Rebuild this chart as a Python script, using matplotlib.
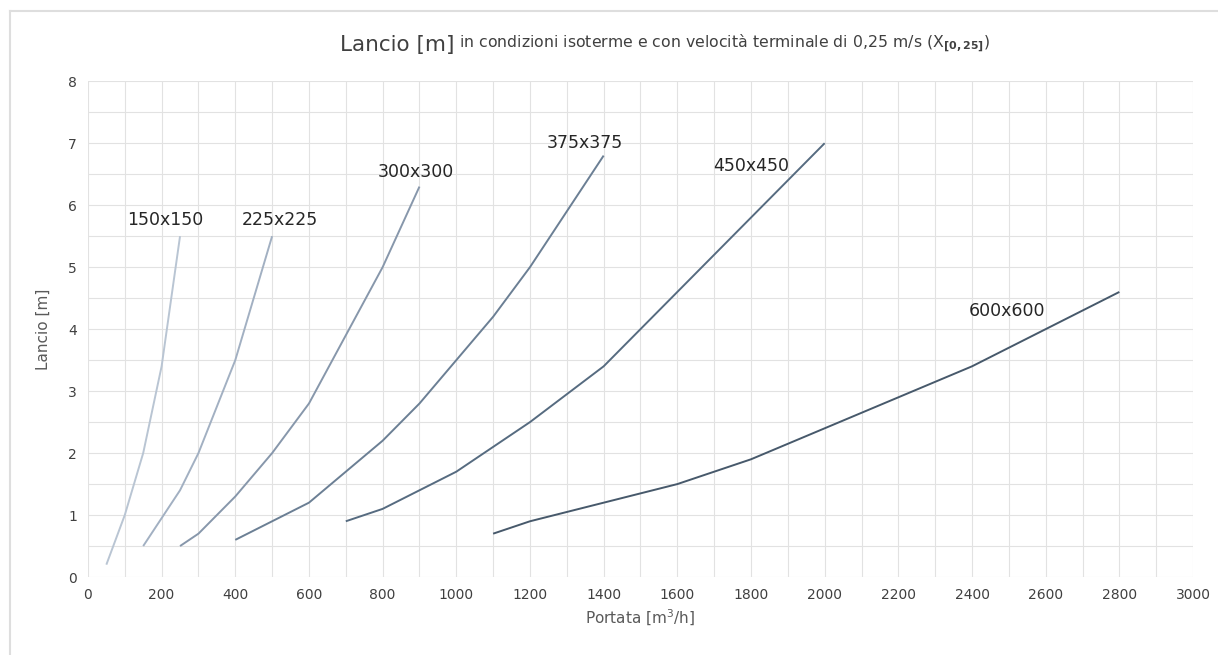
import matplotlib
matplotlib.use("Agg")
import matplotlib.pyplot as plt
from matplotlib.lines import Line2D

# ---- data ----
labels = ["150x150", "225x225", "300x300", "375x375", "450x450", "600x600"]
x_150 = [50, 100, 150, 200, 250]
y_150 = [0.2, 1.0, 2.0, 3.4, 5.5]
x_225 = [150, 200, 250, 300, 400, 500]
y_225 = [0.5, 0.95, 1.4, 2.0, 3.5, 5.5]
x_300 = [250, 300, 400, 500, 600, 700, 800, 900]
y_300 = [0.5, 0.7, 1.3, 2.0, 2.8, 3.9, 5.0, 6.3]
x_375 = [400, 500, 600, 700, 800, 900, 1000, 1100, 1200, 1300, 1400]
y_375 = [0.6, 0.9, 1.2, 1.7, 2.2, 2.8, 3.5, 4.2, 5.0, 5.9, 6.8]
x_450 = [700, 800, 900, 1000, 1100, 1200, 1300, 1400, 1500, 1600, 1700, 1800, 1900, 2000]
y_450 = [0.9, 1.1, 1.4, 1.7, 2.1, 2.5, 2.95, 3.4, 4.0, 4.6, 5.2, 5.8, 6.4, 7.0]
x_600 = [1100, 1200, 1400, 1600, 1800, 2000, 2200, 2400, 2600, 2800]
y_600 = [0.7, 0.9, 1.2, 1.5, 1.9, 2.4, 2.9, 3.4, 4.0, 4.6]
label_pos_x = [210, 520, 890, 1350, 1800, 2495]
label_pos_y = [5.76, 5.76, 6.53, 7.0, 6.63, 4.29]
xticks = list(range(0, 3001, 200))
yticks = list(range(0, 9))

series = [(x_150, y_150), (x_225, y_225), (x_300, y_300),
          (x_375, y_375), (x_450, y_450), (x_600, y_600)]
colors = ["#b9c5d3", "#a2b0c2", "#8797ab", "#6b7f94", "#566b80", "#47596b"]

fig = plt.figure(figsize=(12.18, 6.55), dpi=100)
fig.patch.set_facecolor("white")
ax = fig.add_axes([0.0722, 0.119, 0.9073, 0.757])

for (xs, ys), c in zip(series, colors):
    ax.plot(xs, ys, color=c, lw=1.4, solid_capstyle="butt", zorder=3)

for lab, lx, ly in zip(labels, label_pos_x, label_pos_y):
    ax.text(lx, ly, lab, ha="center", va="center", fontsize=12.5,
            color="#262626", zorder=4)

ax.set_xlim(0, 3000)
ax.set_ylim(0, 8)
ax.set_xticks(xticks)
ax.set_yticks(yticks)
ax.set_xticks(range(0, 3001, 100), minor=True)
ax.set_yticks([i * 0.5 for i in range(17)], minor=True)
ax.grid(True, which="both", color="#e2e2e2", lw=0.8, zorder=0)
for s in ax.spines.values():
    s.set_visible(False)
ax.tick_params(which="both", length=0, labelsize=10, labelcolor="#404040", pad=8)
ax.set_xlabel("Portata [m$^3$/h]", fontsize=11, color="#5a5a5a", labelpad=4)
ax.set_ylabel("Lancio [m]", fontsize=11, color="#5a5a5a", labelpad=12)

# title in two parts
t1 = fig.text(0.279, 0.922, "Lancio [m]", fontsize=15.5, color="#404040",
              ha="left", va="baseline")
ax.annotate(" in condizioni isoterme e con velocità terminale di 0,25 m/s (X$_{\\mathbf{[0,25]}}$)",
            xy=(1, 0), xycoords=t1, va="bottom", ha="left",
            fontsize=11.3, color="#404040", annotation_clip=False)

# outer light frame (top and left edges only)
fig.add_artist(Line2D([0.008, 1.0], [0.983, 0.983], transform=fig.transFigure,
                      color="#dedede", lw=1.5))
fig.add_artist(Line2D([0.008, 0.008], [0.0, 0.983], transform=fig.transFigure,
                      color="#dedede", lw=1.5))

fig.savefig("out.png", dpi=100)
